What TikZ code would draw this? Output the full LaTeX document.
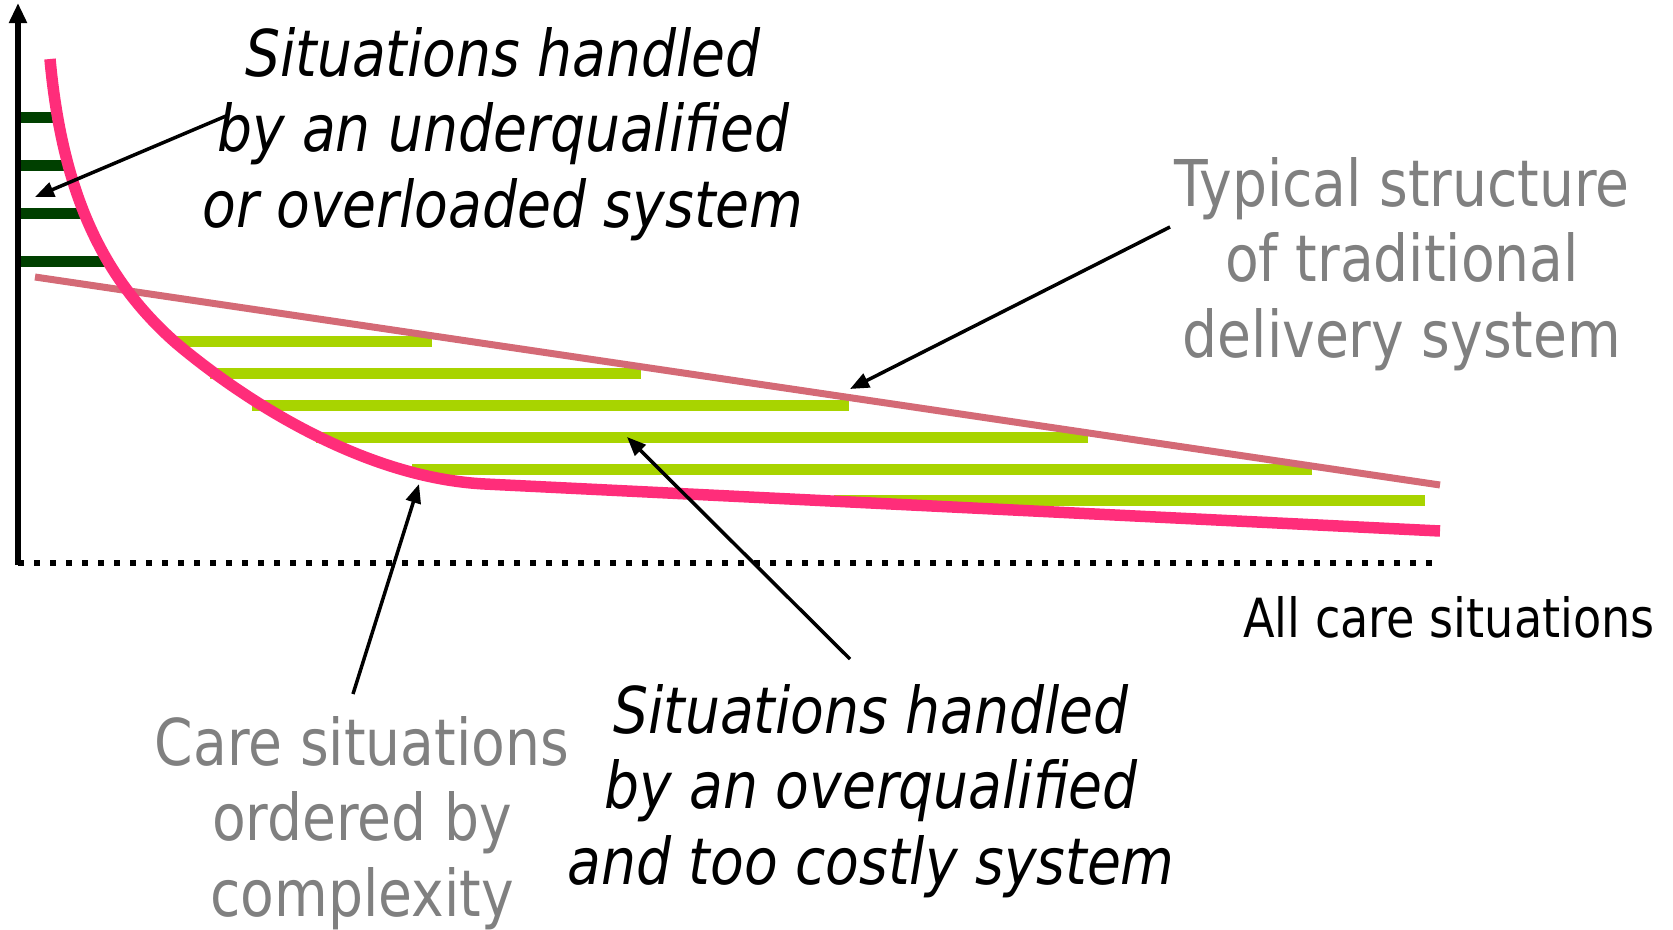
\documentclass[tikz,border=0pt]{standalone}
\usepackage{fontspec}
\setmainfont[FakeStretch=0.855]{DejaVu Sans}
\usetikzlibrary{arrows.meta}
\definecolor{pinkc}{RGB}{255,45,122}
\definecolor{mauvec}{RGB}{212,106,118}
\definecolor{lgreen}{RGB}{168,212,0}
\definecolor{dgreen}{RGB}{0,64,0}
\definecolor{grayt}{RGB}{128,128,128}
\begin{document}
\begin{tikzpicture}[x=1pt,y=-1pt,
  bigtext/.style={font=\fontsize{64.5}{75.5}\selectfont, align=center, inner sep=0pt, anchor=base},
  graytext/.style={bigtext, text=grayt},
  itext/.style={bigtext, font=\fontsize{64.5}{75.5}\selectfont\itshape},
  arr/.style={line width=3.5pt, -{Triangle[length=19pt,width=15pt]}},
  dbar/.style={dgreen, line width=11pt},
  lbar/.style={lgreen, line width=11pt},
]
\useasboundingbox (0,0) rectangle (1673,929);
% dark green bars
\foreach \y/\x in {117/57,165/67,213/83,261/106} \draw[dbar] (18,\y) -- (\x,\y);
% light green bars
\foreach \y/\a/\b in {341/172/432,373/210/641,405/252/849,437/316/1088,469/412/1312,500/834/1425}
  \draw[lbar] (\a,\y) -- (\b,\y);
% traditional structure line
\draw[mauvec, line width=7pt] (35,277) -- (1440,485);
% care curve
\draw[pinkc, line width=11.5pt, line join=round]
  (50,59) .. controls (62,190) and (101,277) .. (176,343)
  .. controls (246,402) and (365,478) .. (485,484) -- (1440,531);
% axes
\draw[line width=5.5pt, -{Triangle[length=20pt,width=17pt]}] (18,565) -- (18,3);
\coordinate (xa) at (18,563);
\coordinate (xb) at (1437,563);
\draw[line width=6pt, dash pattern=on 6pt off 10pt] (xa) -- (xb);
% texts (base anchor = baseline of the last line)
\node[itext] (under) at (503,227) {Situations handled\\by an underqualified\\or overloaded system};
\node[graytext] (trad) at (1402,357) {Typical structure\\of traditional\\delivery system};
\node[bigtext, font=\fontsize{54}{60}\selectfont] (all) at (1449,637) {All care situations};
\node[graytext] (care) at (362,916) {Care situations\\ordered by\\complexity};
\node[itext] (over) at (871,884) {Situations handled\\by an overqualified\\and too costly system};
% arrows
\coordinate (a1s) at (226,116);
\coordinate (a1e) at (35,197);
\coordinate (a2s) at (1170,227);
\coordinate (a2e) at (850,389);
\coordinate (a3s) at (353,694);
\coordinate (a3e) at (419,484);
\coordinate (a4s) at (850,659);
\coordinate (a4e) at (627,437);
\draw[arr] (a1s) -- (a1e);
\draw[arr] (a2s) -- (a2e);
\draw[arr] (a3s) -- (a3e);
\draw[arr] (a4s) -- (a4e);
\end{tikzpicture}
\end{document}
